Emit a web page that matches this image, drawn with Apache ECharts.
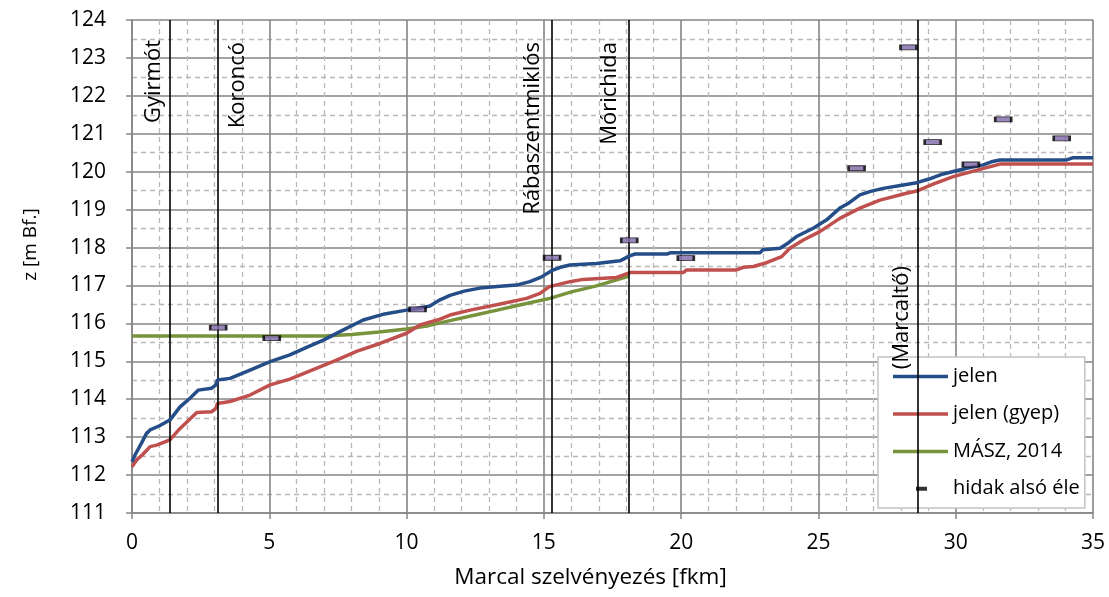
<!DOCTYPE html>
<html>
<head>
<meta charset="utf-8">
<script src="https://cdn.jsdelivr.net/npm/echarts@6/dist/echarts.min.js"></script>
<style>
html,body{margin:0;padding:0;background:#fff;}
#chart{width:1109px;height:597px;}
</style>
</head>
<body>
<div id="chart"></div>
<script>
// ---- data (km, z [m Bf.]) ----
const jelen = [[0,112.35],[0.11,112.53],[0.35,112.85],[0.53,113.10],[0.66,113.19],[1.0,113.30],[1.38,113.45],[1.75,113.80],[2.1,114.02],[2.41,114.24],[2.9,114.29],[3.06,114.38],[3.11,114.51],[3.57,114.55],[4.3,114.77],[5.03,114.99],[5.75,115.17],[6.4,115.38],[6.97,115.56],[7.7,115.83],[8.42,116.09],[9.2,116.25],[10.0,116.35],[10.3,116.38],[10.85,116.46],[11.22,116.62],[11.58,116.74],[12.1,116.85],[12.67,116.93],[13.3,116.97],[14.0,117.01],[14.49,117.10],[14.9,117.22],[15.28,117.39],[15.6,117.48],[15.95,117.54],[16.92,117.58],[17.77,117.65],[18.13,117.78],[18.32,117.83],[19.5,117.83],[19.6,117.86],[22.87,117.86],[22.98,117.94],[23.6,117.98],[23.9,118.12],[24.2,118.29],[24.81,118.51],[25.3,118.73],[25.78,119.04],[26.1,119.17],[26.51,119.39],[26.9,119.48],[27.36,119.56],[28.09,119.65],[28.58,119.71],[29.0,119.80],[29.54,119.94],[30.4,120.09],[31.0,120.18],[31.3,120.26],[31.61,120.31],[34.04,120.31],[34.28,120.37],[35,120.37]];
const jelenGyep = [[0,112.22],[0.17,112.40],[0.4,112.55],[0.66,112.75],[0.9,112.79],[1.38,112.93],[1.75,113.23],[2.36,113.65],[2.9,113.67],[3.06,113.76],[3.11,113.89],[3.57,113.94],[4.3,114.11],[5.03,114.38],[5.75,114.53],[6.6,114.78],[7.45,115.03],[8.2,115.27],[9.03,115.47],[10.0,115.74],[10.49,115.96],[11.22,116.11],[11.58,116.22],[12.31,116.35],[13.28,116.49],[14.37,116.66],[14.86,116.79],[15.2,116.97],[15.95,117.10],[16.43,117.16],[17.65,117.21],[18.13,117.34],[20.08,117.34],[20.2,117.41],[22.02,117.41],[22.26,117.48],[22.63,117.50],[23.11,117.60],[23.66,117.76],[23.96,117.98],[24.45,118.20],[25.05,118.42],[25.78,118.77],[26.51,119.04],[27.24,119.25],[28.21,119.43],[28.58,119.49],[29.2,119.68],[29.91,119.87],[30.88,120.06],[31.61,120.20],[35,120.20]];
const masz2014 = [[0,115.67],[7.0,115.67],[8.0,115.71],[9.0,115.77],[10.0,115.85],[10.8,115.94],[11.5,116.06],[12.5,116.22],[13.3,116.35],[14.2,116.50],[15.22,116.66],[16.0,116.83],[16.92,116.99],[18.11,117.25]];
const hidak = [[3.14,115.89],[5.09,115.61],[10.4,116.37],[15.3,117.73],[18.11,118.19],[20.17,117.72],[26.39,120.09],[28.28,123.28],[29.16,120.78],[30.55,120.19],[31.73,121.38],[33.86,120.88]];
const townNames = ['Gyirmót','Koroncó','Rábaszentmiklós','Mórichida','(Marcaltő)'];
const townKm = [1.38, 3.12, 15.28, 18.1, 28.6];
const seriesNames = ['jelen','jelen (gyep)','MÁSZ, 2014','hidak alsó éle'];
const xTicks = {min:0, max:35, interval:5};
const yTicks = {min:111, max:124, interval:1};

const FONT = 'Open Sans';
const chart = echarts.init(document.getElementById('chart'), null, {renderer:'canvas'});

const labelCfg = [
  {pos:'insideEndTop', dist:[20,5]},
  {pos:'insideEndBottom', dist:[22,9]},
  {pos:'insideEndTop', dist:[22,8]},
  {pos:'insideEndTop', dist:[22,8]},
  {pos:'insideEndTop', dist:[4,5]}
];
const marcLabelTop = 117.62;
const mlData = [];
townNames.forEach((n,i)=>{
  const lab = {show:true, formatter:n, position:labelCfg[i].pos, distance:labelCfg[i].dist,
    color:'#000', fontFamily:FONT, fontSize:22};
  if (i === 4) {
    mlData.push([{coord:[townKm[i], yTicks.min], label:lab},{coord:[townKm[i], marcLabelTop]}]);
    mlData.push([{coord:[townKm[i], marcLabelTop], label:{show:false}},{coord:[townKm[i], yTicks.max]}]);
  } else {
    mlData.push([{coord:[townKm[i], yTicks.min], label:lab},{coord:[townKm[i], yTicks.max]}]);
  }
});

const lineIcon = 'path://M0,0M55,14M0,5.5h55v3.4h-55z';

const option = {
  animation:false,
  backgroundColor:'#fff',
  grid:{left:132, right:16, top:20, bottom:84},
  xAxis:{
    type:'value', min:xTicks.min, max:xTicks.max, interval:xTicks.interval,
    name:'Marcal szelvényezés [fkm]', nameLocation:'middle', nameGap:53,
    nameTextStyle:{fontFamily:FONT, fontSize:22.5, color:'#000', padding:[0,44,0,0]},
    axisLine:{show:true, lineStyle:{color:'#868686', width:1.5}},
    axisTick:{show:true, length:6, lineStyle:{color:'#868686', width:1.5}},
    axisLabel:{fontFamily:FONT, fontSize:21, color:'#000', margin:20},
    splitLine:{show:true, lineStyle:{color:'#858585', width:1.6}},
    minorTick:{show:false, splitNumber:5},
    minorSplitLine:{show:true, lineStyle:{color:'#b8b8b8', width:1.3, type:[5,4]}}
  },
  yAxis:{
    type:'value', min:yTicks.min, max:yTicks.max, interval:yTicks.interval,
    name:'z [m Bf.]', nameLocation:'middle', nameGap:92, nameRotate:90,
    nameTextStyle:{fontFamily:FONT, fontSize:19, color:'#000', padding:[0,0,0,44]},
    axisLine:{show:true, lineStyle:{color:'#868686', width:1.5}},
    axisTick:{show:true, length:6, lineStyle:{color:'#868686', width:1.5}},
    axisLabel:{fontFamily:FONT, fontSize:21, color:'#000', margin:26},
    splitLine:{show:true, lineStyle:{color:'#858585', width:1.6}},
    minorTick:{show:false, splitNumber:2},
    minorSplitLine:{show:true, lineStyle:{color:'#b8b8b8', width:1.3, type:[5,4]}}
  },
  legend:{
    orient:'vertical', left:878, top:357,
    backgroundColor:'#fff', borderColor:'#c4c4c4', borderWidth:1.5,
    padding:[7,5,7,15], itemWidth:55, itemHeight:14, itemGap:13,
    textStyle:{fontFamily:FONT, fontSize:20, color:'#000', lineHeight:24.5},
    data:[
      {name:seriesNames[0], icon:lineIcon, itemStyle:{color:'#254d87'}},
      {name:seriesNames[1], icon:lineIcon, itemStyle:{color:'#c0504d'}},
      {name:seriesNames[2], icon:lineIcon, itemStyle:{color:'#77933c'}},
      {name:seriesNames[3], icon:'path://M0,0M55,14M23,5h11v4h-11z', itemStyle:{color:'#000', borderWidth:0}}
    ]
  },
  series:[
    {type:'line', name:'_towns', data:[], silent:true, z:1,
      markLine:{silent:true, symbol:['none','none'], animation:false,
        lineStyle:{color:'#000', width:1.6, type:'solid'},
        emphasis:{disabled:true},
        data:mlData}},
    {type:'line', name:seriesNames[2], data:masz2014, showSymbol:false, symbol:'none', z:3,
      lineStyle:{color:'#77933c', width:3.5}, itemStyle:{color:'#77933c'}},
    {type:'line', name:seriesNames[1], data:jelenGyep, showSymbol:false, symbol:'none', z:4,
      lineStyle:{color:'#c0504d', width:3.5}, itemStyle:{color:'#c0504d'}},
    {type:'line', name:seriesNames[0], data:jelen, showSymbol:false, symbol:'none', z:5,
      lineStyle:{color:'#254d87', width:3.5}, itemStyle:{color:'#254d87'}},
    {type:'scatter', name:seriesNames[3], data:hidak, symbol:'rect', symbolSize:[16,5], z:6,
      itemStyle:{color:'#7f68a8', borderColor:'#000', borderWidth:1.5}}
  ]
};
chart.setOption(option);
</script>
</body>
</html>
